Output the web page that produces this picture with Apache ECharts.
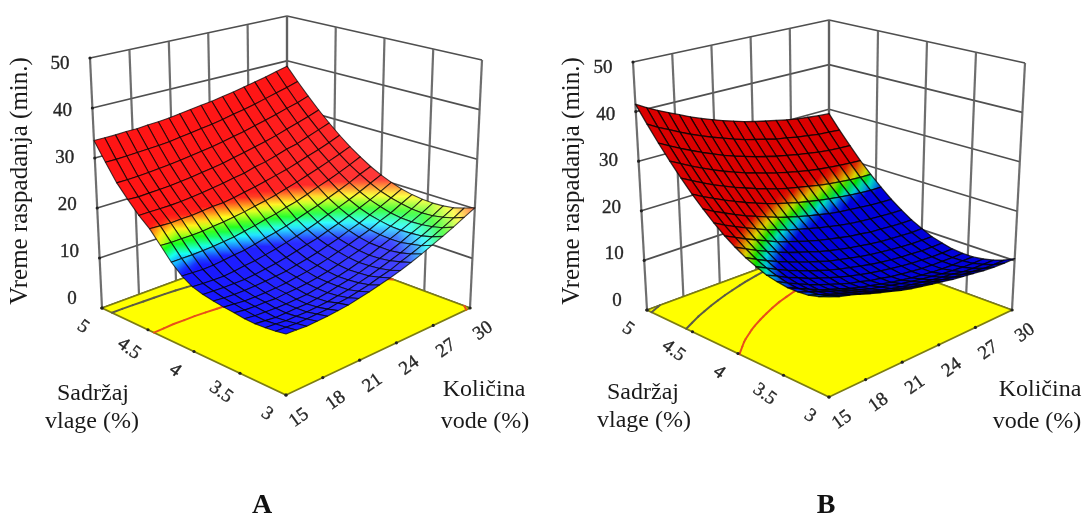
<!DOCTYPE html>
<html><head><meta charset="utf-8">
<style>html,body{margin:0;background:#fff}#c{width:1087px;height:517px;filter:blur(.45px)}</style>
<script src="https://cdn.jsdelivr.net/npm/echarts@6/dist/echarts.min.js"></script>
</head><body><div id="c"></div>
<script>
const waterTicks=[15,18,21,24,27,30];
const moistureTicks=[3,3.5,4,4.5,5];
const timeTicks=[0,10,20,30,40,50];
const contourLevelsA=[19.8,30];
const contourLevelsB=[20,30,40];
const surfaceA=[
[10.9,10.8,10.7,10.8,10.9,11.1,11.3,11.7,12.1,12.6,13.1,13.7,14.4,15.2,16.1,17.0,18.0,19.1,20.2],
[10.6,10.5,10.4,10.4,10.5,10.6,10.9,11.1,11.5,11.9,12.5,13.0,13.8,14.5,15.3,16.2,17.2,18.3,19.5],
[10.4,10.3,10.1,10.1,10.1,10.2,10.4,10.7,11.0,11.5,12.0,12.6,13.3,14.0,14.9,15.7,16.7,17.8,18.9],
[10.3,10.1,9.9,9.9,10.0,10.0,10.2,10.5,10.9,11.3,11.8,12.4,13.0,13.7,14.5,15.5,16.4,17.4,18.6],
[10.4,10.2,10.1,10.0,10.0,10.1,10.2,10.5,10.9,11.2,11.7,12.3,12.9,13.7,14.5,15.4,16.3,17.3,18.5],
[10.7,10.4,10.3,10.3,10.2,10.4,10.5,10.7,11.0,11.4,11.9,12.5,13.1,13.8,14.6,15.5,16.4,17.4,18.6],
[10.9,10.7,10.5,10.5,10.5,10.6,10.8,11.1,11.4,11.8,12.3,12.9,13.5,14.2,14.9,15.9,16.7,17.8,18.9],
[11.2,11.0,10.9,10.9,11.0,11.1,11.3,11.5,11.9,12.3,12.8,13.4,14.0,14.8,15.5,16.4,17.3,18.3,19.4],
[11.6,11.5,11.4,11.4,11.4,11.6,11.9,12.2,12.6,13.1,13.6,14.1,14.8,15.5,16.3,17.1,18.0,19.0,20.1],
[12.2,12.1,12.0,12.0,12.2,12.5,12.7,13.1,13.5,14.0,14.5,15.1,15.8,16.6,17.3,18.1,19.0,20.0,21.0],
[13.4,13.3,13.2,13.3,13.5,13.8,14.0,14.4,14.9,15.3,15.8,16.4,17.1,17.7,18.5,19.3,20.2,21.2,22.1],
[15.2,15.2,15.2,15.3,15.4,15.6,15.8,16.2,16.6,17.1,17.5,18.1,18.6,19.3,20.1,20.8,21.6,22.5,23.5],
[17.6,17.5,17.5,17.5,17.6,17.8,18.0,18.3,18.6,19.0,19.4,19.9,20.5,21.1,21.8,22.5,23.3,24.1,25.0],
[20.0,19.9,19.8,19.9,19.9,20.1,20.3,20.4,20.7,21.1,21.5,22.0,22.5,23.0,23.7,24.4,25.1,25.9,26.8],
[21.8,21.8,21.8,21.8,21.9,22.1,22.3,22.6,22.9,23.3,23.6,24.2,24.6,25.2,25.9,26.4,27.2,28.0,28.8],
[24.1,24.0,24.1,24.2,24.3,24.5,24.7,25.0,25.3,25.6,26.1,26.5,27.0,27.5,28.1,28.8,29.5,30.2,31.0],
[26.6,26.6,26.7,26.8,27.0,27.2,27.4,27.7,28.0,28.3,28.7,29.2,29.6,30.2,30.7,31.3,32.0,32.6,33.4],
[29.9,29.9,30.0,30.1,30.2,30.3,30.5,30.8,31.1,31.4,31.7,32.1,32.6,33.0,33.5,34.1,34.7,35.3,36.0],
[33.5,33.5,33.5,33.6,33.6,33.8,33.9,34.1,34.4,34.7,35.0,35.3,35.7,36.1,36.6,37.1,37.6,38.2,38.8]
];
const surfaceB=[
[18.0,17.3,16.8,16.2,15.5,14.9,14.3,13.7,13.2,12.8,12.4,12.0,11.6,11.3,11.0,10.7,10.5,10.4,10.4],
[17.3,16.6,16.0,15.4,14.7,14.1,13.5,12.9,12.4,11.9,11.5,11.2,10.8,10.4,10.1,9.8,9.5,9.4,9.4],
[16.8,16.1,15.4,14.8,14.2,13.5,12.8,12.2,11.7,11.2,10.8,10.4,10.0,9.7,9.4,9.0,8.8,8.7,8.7],
[16.6,15.9,15.1,14.4,13.7,13.0,12.3,11.7,11.2,10.7,10.2,9.8,9.4,9.1,8.7,8.5,8.3,8.2,8.2],
[16.6,15.7,14.8,13.9,13.2,12.5,11.8,11.2,10.7,10.2,9.7,9.3,8.9,8.6,8.3,8.1,8.0,8.0,7.9],
[16.9,15.9,15.0,14.1,13.3,12.6,11.9,11.2,10.7,10.1,9.7,9.2,8.9,8.6,8.3,8.1,8.0,7.9,7.9],
[17.3,16.4,15.4,14.6,13.7,13.0,12.3,11.6,11.0,10.5,10.0,9.6,9.2,8.9,8.6,8.4,8.2,8.1,8.1],
[18.1,17.1,16.1,15.2,14.4,13.6,12.9,12.2,11.6,11.1,10.6,10.1,9.7,9.4,9.1,8.9,8.7,8.6,8.6],
[19.0,18.0,17.0,16.1,15.3,14.5,13.8,13.1,12.4,11.9,11.4,10.9,10.5,10.2,9.9,9.6,9.4,9.3,9.2],
[20.2,19.2,18.2,17.3,16.4,15.6,14.9,14.2,13.5,12.9,12.4,11.9,11.5,11.1,10.8,10.6,10.4,10.2,10.2],
[21.6,20.6,19.6,18.7,17.8,16.9,16.2,15.5,14.8,14.2,13.7,13.2,12.7,12.4,12.0,11.8,11.6,11.4,11.3],
[23.3,22.2,21.2,20.3,19.4,18.5,17.8,17.0,16.4,15.8,15.2,14.7,14.2,13.8,13.5,13.2,13.0,12.8,12.7],
[25.2,24.1,23.1,22.1,21.2,20.4,19.6,18.8,18.1,17.5,16.9,16.4,15.9,15.5,15.2,14.9,14.6,14.4,14.3],
[27.3,26.2,25.2,24.2,23.3,22.4,21.6,20.8,20.1,19.5,18.9,18.4,17.9,17.5,17.1,16.8,16.5,16.3,16.2],
[29.7,28.6,27.5,26.5,25.6,24.7,23.9,23.1,22.4,21.7,21.1,20.6,20.1,19.6,19.2,18.9,18.6,18.4,18.3],
[32.3,31.2,30.1,29.1,28.1,27.2,26.4,25.6,24.9,24.2,23.6,23.0,22.5,22.0,21.6,21.3,21.0,20.8,20.6],
[35.1,34.0,32.9,31.9,30.9,30.0,29.1,28.3,27.6,26.9,26.3,25.7,25.2,24.7,24.3,23.9,23.6,23.4,23.2],
[38.2,37.0,36.0,34.9,33.9,33.0,32.1,31.3,30.5,29.8,29.2,28.6,28.0,27.6,27.1,26.8,26.4,26.2,26.0],
[41.5,40.3,39.2,38.2,37.2,36.2,35.3,34.5,33.7,33.0,32.3,31.7,31.2,30.7,30.2,29.8,29.5,29.2,29.0]
];

const FONT='"Liberation Serif","Times New Roman",serif';
const RGB={blue:[0,0,255],cyan:[0,255,255],green:[0,255,0],yellow:[255,255,0],red:[255,0,0]};

function quad(p00,p10,p11,p01){
  return (u,v)=>[0,1].map(k=>p00[k]*(1-u)*(1-v)+p10[k]*u*(1-v)+p11[k]*u*v+p01[k]*(1-u)*v);
}

function panel(name,table,view,levels){
  const floor=quad(view.front,view.right,view.back,view.left);
  const top=quad(view.frontTop,view.rightTop,view.backTop,view.leftTop);
  const project=(u,v,z)=>{const a=floor(u,v),b=top(u,v),t=z/50;return [a[0]+(b[0]-a[0])*t,a[1]+(b[1]-a[1])*t];};
  const U=w=>(w-15)/15,V=m=>(m-3)/2;
  const n=table.length-1;
  const colour=(z,u,v)=>{
    const s=view.stops;let c=s[s.length-1][1];
    if(z<=s[0][0])c=s[0][1];
    else for(let k=1;k<s.length;k++){if(z<=s[k][0]){const t=(z-s[k-1][0])/(s[k][0]-s[k-1][0]);c=s[k-1][1].map((x,q)=>x+(s[k][1][q]-x)*t);break;}}
    const pale=view.pale[0]+view.pale[1]*u*(1-v),m=view.dark;
    return 'rgb('+c.map(x=>Math.round((x+(255-x)*pale)*m)).join(',')+')';
  };
  const base={type:'custom',coordinateSystem:'cartesian2d',animation:false,silent:true,clip:false,xAxisIndex:0,yAxisIndex:0,encode:{x:0,y:1},legendHoverLink:false};
  const seg=(d,a,style)=>{const p=a.coord(project(d(0),d(1),d(2))),q=a.coord(project(d(3),d(4),d(5)));return {type:'line',shape:{x1:p[0],y1:p[1],x2:q[0],y2:q[1]},style:style};};

  // walls
  const wallH=[],wallV=[],dots=[];
  timeTicks.forEach(z=>{wallH.push([0,1,z,1,1,z]);wallH.push([1,1,z,1,0,z]);dots.push([0,1,z]);});
  waterTicks.forEach(w=>{wallV.push([U(w),1,0,U(w),1,50]);dots.push([U(w),0,0]);});
  moistureTicks.forEach(m=>{wallV.push([1,V(m),0,1,V(m),50]);dots.push([0,V(m),0]);});
  const wallHS={...base,name:name+' wall levels',data:wallH,renderItem:(p,a)=>seg(a.value,a,{stroke:'#3c3c3c',lineWidth:1.7,opacity:.9})};
  const wallVS={...base,name:name+' wall ticks',data:wallV,renderItem:(p,a)=>seg(a.value,a,{stroke:'#5e5e5e',lineWidth:2.2,opacity:.9})};

  // floor
  const floorS={...base,name:name+' floor',data:[[0,0]],renderItem:(p,a)=>({type:'polygon',shape:{points:[[0,0],[1,0],[1,1],[0,1]].map(c=>a.coord(floor(c[0],c[1])))},style:{fill:'#ffff00',stroke:'#7d7d10',lineWidth:1.7}})};
  const dotS={...base,name:name+' tick marks',data:dots,renderItem:(p,a)=>{const c=a.coord(project(a.value(0),a.value(1),a.value(2)));return {type:'circle',shape:{cx:c[0],cy:c[1],r:1.6},style:{fill:'#222'}};}};

  // contours from the surface table
  const cont=[];
  levels.forEach((L,li)=>{
    for(let j=0;j<n;j++)for(let i=0;i<n;i++){
      const c=[[i,j],[i+1,j],[i+1,j+1],[i,j+1]],pts=[];
      for(let k=0;k<4;k++){
        const a=c[k],b=c[(k+1)%4],za=table[a[1]][a[0]],zb=table[b[1]][b[0]];
        if((za<L)!==(zb<L)){const t=(L-za)/(zb-za);pts.push((a[0]+(b[0]-a[0])*t)/n,(a[1]+(b[1]-a[1])*t)/n);}
      }
      if(pts.length>=4)cont.push([pts[0],pts[1],pts[2],pts[3],li]);
    }
  });
  const contS={...base,name:name+' contours',data:cont,renderItem:(p,a)=>{
    const q=a.coord(floor(a.value(0),a.value(1))),r=a.coord(floor(a.value(2),a.value(3)));
    return {type:'line',shape:{x1:q[0],y1:q[1],x2:r[0],y2:r[1]},style:{stroke:a.value(4)===0?'#e8501a':'#5c5c44',lineWidth:2,lineCap:'round'}};
  }};

  // surface cells, far corner first
  const cells=[];
  for(let j=n-1;j>=0;j--)for(let i=n-1;i>=0;i--)cells.push([i,j,table[j][i],table[j][i+1],table[j+1][i+1],table[j+1][i]]);
  const surfS={...base,name:name+' surface',data:cells,renderItem:(p,a)=>{
    const i=a.value(0),j=a.value(1),zs=[a.value(2),a.value(3),a.value(4),a.value(5)];
    const uv=[[i,j],[i+1,j],[i+1,j+1],[i,j+1]].map(c=>[c[0]/n,c[1]/n]);
    const pts=uv.map((c,k)=>a.coord(project(c[0],c[1],zs[k])));
    let lo=0,hi=0;zs.forEach((z,k)=>{if(z<zs[lo])lo=k;if(z>zs[hi])hi=k;});
    const um=(i+.5)/n,vm=(j+.5)/n,stops=[];
    for(let t=0;t<=4;t++)stops.push({offset:t/4,color:colour(zs[lo]+(zs[hi]-zs[lo])*t/4,um,vm)});
    const fill=lo===hi?stops[0].color:new echarts.graphic.LinearGradient(pts[lo][0],pts[lo][1],pts[hi][0],pts[hi][1],stops,true);
    return {type:'polygon',shape:{points:pts},style:{fill:fill,stroke:view.mesh,lineWidth:view.meshWidth,lineJoin:'round'}};
  }};

  // tick labels
  const txt=(x,y,t,rot,font)=>({type:'text',x:x,y:y,rotation:rot,style:{text:t,x:0,y:0,align:'center',verticalAlign:'middle',font:font,fill:'#262626',stroke:'#262626',lineWidth:.35}});
  const f='19px '+FONT;
  const zLab={...base,name:name+' time labels',data:timeTicks.map(z=>[z]),renderItem:(p,a)=>{
    const z=a.value(0),c=a.coord(project(0,1,z));return txt(c[0]-30,c[1]-9+15*z/50,String(z),0,f);}};
  const wLab={...base,name:name+' water labels',data:waterTicks.map(w=>[w]),renderItem:(p,a)=>{
    const w=a.value(0),c=a.coord(floor(U(w),0));return txt(c[0]+13,c[1]+23,String(w),.62,f);}};
  const mLab={...base,name:name+' moisture labels',data:moistureTicks.map(m=>[m]),renderItem:(p,a)=>{
    const m=a.value(0),c=a.coord(floor(0,V(m)));return txt(c[0]-19,c[1]+19,String(m),-.62,f);}};
  return [wallHS,wallVS,floorS,contS,dotS,surfS,zLab,wLab,mLab];
}

const viewA={front:[286,395],right:[470,308],back:[287,240],left:[102,308],
  frontTop:[286,115],rightTop:[482,60],backTop:[287,16],leftTop:[90,58],
  stops:[[14,RGB.blue],[15.7,RGB.cyan],[17,RGB.green],[18.6,RGB.yellow],[20.5,RGB.red]],
  pale:[.08,.3],dark:1,mesh:'rgba(0,0,0,.72)',meshWidth:1.1};
const viewB={front:[829,397],right:[1012,310],back:[829,243],left:[647,310],
  frontTop:[829,119],rightTop:[1025,63],backTop:[829,20],leftTop:[633,62],
  stops:[[16,RGB.blue],[17.2,RGB.cyan],[18,RGB.green],[19,RGB.yellow],[20.5,RGB.red]],
  pale:[0,0],dark:.86,mesh:'rgba(0,0,0,.78)',meshWidth:1.3};

const tt=(x,y,t,size,extra)=>Object.assign({type:'text',x:x,y:y,silent:true,style:{text:t,align:'center',verticalAlign:'middle',font:size+'px '+FONT,fill:'#1a1a1a'}},extra||{});
const chart=echarts.init(document.getElementById('c'),null,{renderer:'canvas'});
chart.setOption({
  animation:false,backgroundColor:'#fff',
  grid:{left:0,right:0,top:0,bottom:0,containLabel:false},
  xAxis:{type:'value',min:0,max:1087,show:false},
  yAxis:{type:'value',min:0,max:517,inverse:true,show:false},
  tooltip:{show:false},
  series:[...panel('A',surfaceA,viewA,contourLevelsA),...panel('B',surfaceB,viewB,contourLevelsB)],
  graphic:{elements:[
    tt(20,181,'Vreme raspadanja (min.)',25,{rotation:Math.PI/2}),
    tt(572,181,'Vreme raspadanja (min.)',25,{rotation:Math.PI/2}),
    tt(93,394,'Sadržaj',24),tt(92,422,'vlage (%)',24),
    tt(484,390,'Količina',24),tt(485,422,'vode (%)',24),
    tt(643,393,'Sadržaj',24),tt(644,421,'vlage (%)',24),
    tt(1040,390,'Količina',24),tt(1037,422,'vode (%)',24),
    tt(262,506,'A',28,{style:{text:'A',align:'center',verticalAlign:'middle',font:'bold 28px '+FONT,fill:'#111'}}),
    tt(826,506,'B',28,{style:{text:'B',align:'center',verticalAlign:'middle',font:'bold 28px '+FONT,fill:'#111'}})
  ]}
});
</script></body></html>
